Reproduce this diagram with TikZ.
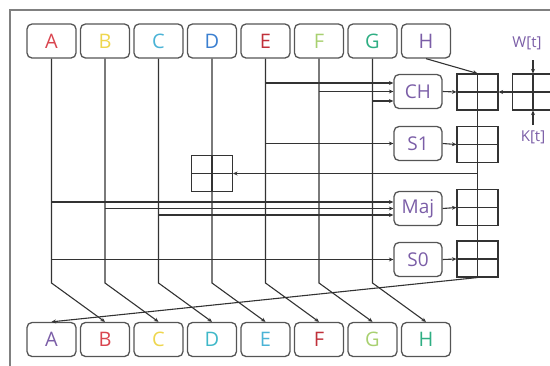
\documentclass[tikz,border=0pt]{standalone}
\usepackage{fontspec}
\setmainfont{Open Sans}
\usetikzlibrary{arrows.meta}
\definecolor{wirecol}{HTML}{333333}
\definecolor{boxcol}{HTML}{555555}
\definecolor{framecol}{HTML}{808080}
\definecolor{cRed}{HTML}{D9454F}
\definecolor{cYel}{HTML}{EED64E}
\definecolor{cCyan}{HTML}{4AB3D6}
\definecolor{cBlue}{HTML}{3B7FD0}
\definecolor{cDRed}{HTML}{C0303A}
\definecolor{cLGreen}{HTML}{A8D070}
\definecolor{cTeal}{HTML}{2FAE83}
\definecolor{cPurple}{HTML}{7B5EA7}
\definecolor{cTurq}{HTML}{3FB8C8}
\begin{document}
\begin{tikzpicture}[x=1pt,y=-1pt,
  reg/.style={draw=boxcol, line width=1.3pt, rounded corners=5pt, minimum width=49pt, minimum height=34pt, inner sep=0pt, font=\fontsize{20}{20}\selectfont},
  func/.style={reg, minimum width=48pt, minimum height=34pt, text=cPurple, font=\fontsize{19}{19}\selectfont},
  adder/.style={draw=wirecol, line width=1.1pt, minimum width=41pt, minimum height=36pt, inner sep=0pt,
    path picture={\draw[wirecol, line width=1.1pt] (path picture bounding box.north) -- (path picture bounding box.south) (path picture bounding box.west) -- (path picture bounding box.east);}},
  lab/.style={text=cPurple, inner sep=1pt, font=\fontsize{15}{15}\selectfont},
  wire/.style={draw=wirecol, line width=1.1pt},
  arr/.style={wire, -{Stealth[length=4.5pt,width=4pt]}}]
\useasboundingbox (0,0) rectangle (550,365);
\draw[framecol, line width=1.5pt] (10,366) -- (10,10) -- (551,10);
% top registers
\foreach \n/\x/\c in {A/51.5/cRed, B/105/cYel, C/158.5/cCyan, D/212/cBlue, E/265.5/cDRed, F/319/cLGreen, G/372.5/cTeal, H/426/cPurple}
  \node[reg, text=\c] (t\n) at (\x,41) {\n};
% bottom registers
\foreach \n/\x/\c in {A/51.5/cPurple, B/105/cRed, C/158.5/cYel, D/212/cTurq, E/265.5/cCyan, F/319/cDRed, G/372.5/cLGreen, H/426/cTeal}
  \node[reg, text=\c] (b\n) at (\x,339.5) {\n};
% function boxes
\node[func] (ch) at (418,91.5) {CH};
\node[func] (s1) at (418,143.5) {S1};
\node[func] (maj) at (418,208.5) {Maj};
\node[func] (s0) at (418,259.5) {S0};
% adders
\node[adder] (addCH) at (477.5,92) {};
\node[adder] (addS1) at (477.5,144.5) {};
\node[adder] (addMaj) at (477.5,207.5) {};
\node[adder] (addS0) at (477.5,259) {};
\node[adder] (addD) at (212,173.5) {};
\node[adder] (wk) at (533,92) {};
% W and K
\node[lab] (wl) at (527,43) {W[t]};
\node[lab] (kl) at (533,137) {K[t]};
\coordinate (wIn) at (533,60);
\coordinate (kIn) at (533,125);
\draw[arr] (wIn) -- (wk.north);
\draw[arr] (kIn) -- (wk.south);
% register shifts
\foreach \a/\b in {A/B,B/C,C/D,D/E,E/F,F/G,G/H} {
  \coordinate (k\a) at (t\a.south |- 0,283);
  \draw[arr] (t\a.south) -- (k\a) -- (b\b.north);
}
% CH inputs
\draw[arr] (tE.south |- 0,83) -- (ch.west |- 0,83);
\draw[arr] (tF.south |- 0,91.5) -- (ch.west |- 0,91.5);
\draw[arr] (tG.south |- 0,101) -- (ch.west |- 0,101);
% S1 input
\draw[arr] (tE.south |- 0,143.5) -- (s1.west);
% Maj inputs
\draw[arr] (tA.south |- 0,202) -- (maj.west |- 0,202);
\draw[arr] (tB.south |- 0,208.5) -- (maj.west |- 0,208.5);
\draw[arr] (tC.south |- 0,215) -- (maj.west |- 0,215);
% S0 input
\draw[arr] (tA.south |- 0,259.5) -- (s0.west);
% function to adders
\draw[arr] (ch.east) -- (addCH.west);
\draw[arr] (s1.east) -- (addS1.west);
\draw[arr] (maj.east) -- (addMaj.west);
\draw[arr] (s0.east) -- (addS0.west);
% adder chain
\draw[wire] (addCH.north) -- (addS0.south);
\draw[arr] (tH.south) -- (addCH.north);
\draw[arr] (wk.west) -- (addCH.east);
\draw[arr] (addCH |- addD) -- (addD.east);
\draw[arr] (addS0.south) -- (bA.north);
\end{tikzpicture}
\end{document}
